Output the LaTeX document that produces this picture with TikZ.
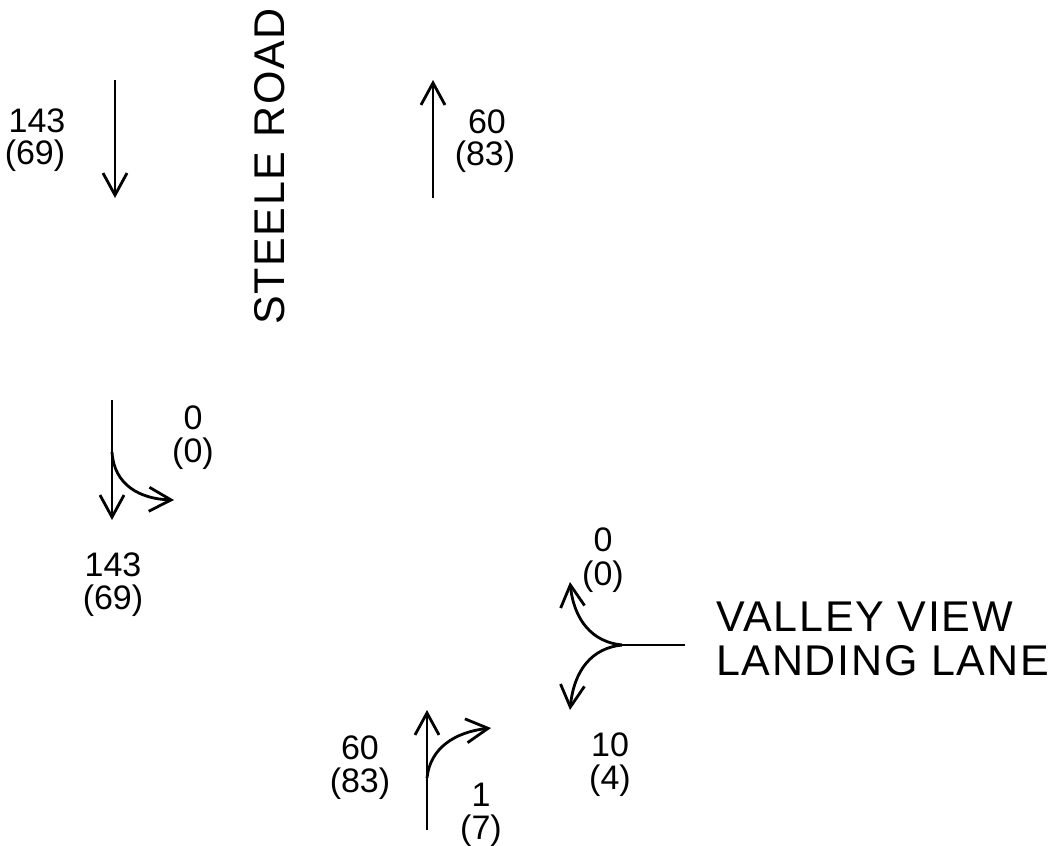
\documentclass[tikz,border=0pt]{standalone}
\usepackage{fontspec}
\setmainfont{Liberation Sans}
\newfontfamily\roadfont[LetterSpace=4]{Liberation Sans}
\usetikzlibrary{arrows.meta}
\begin{document}
\begin{tikzpicture}[x=1pt,y=-1pt,
  flow/.style={line width=2.8pt,-{Straight Barb[length=22pt,width=24pt,line width=2.8pt]}},
  trunk/.style={line width=2.8pt},
  num/.style={font=\fontsize{34}{34}\selectfont,inner sep=0pt,anchor=center},
  road/.style={font=\roadfont\fontsize{43}{43}\selectfont,inner sep=0pt,anchor=west}]
\useasboundingbox (0,0) rectangle (1061,846);
% Steele Road north leg
\coordinate (sbS) at (115,80); \coordinate (sbE) at (115,198);
\draw[flow] (sbS) -- (sbE);
\node[num] (l1a) at (37,121) {143};
\node[num] (l1b) at (35,156) {(69)};
\coordinate (nbS) at (433,198); \coordinate (nbE) at (433,80);
\draw[flow] (nbS) -- (nbE);
\node[num] (l2a) at (487,122) {60};
\node[num] (l2b) at (485,157) {(83)};
\node[road,rotate=90] (steele) at (270,325) {STEELE ROAD};
% southbound approach at intersection
\coordinate (s3S) at (112,400); \coordinate (s3E) at (112,520); \coordinate (s3J) at (112,452);
\coordinate (s3R) at (174,500);
\draw[flow] (s3S) -- (s3E);
\draw[flow] (s3J) .. controls (114,485) and (140,499) .. (s3R);
\node[num] (l3a) at (193,418) {0};
\node[num] (l3b) at (193,454) {(0)};
\node[num] (l4a) at (113,565) {143};
\node[num] (l4b) at (113,601) {(69)};
% Valley View approach
\coordinate (vvS) at (685,645); \coordinate (vvJ) at (622,645);
\coordinate (vvU) at (570,582); \coordinate (vvD) at (570,710);
\draw[trunk] (vvS) -- (vvJ);
\draw[flow] (vvJ) .. controls (592,642) and (574,620) .. (vvU);
\draw[flow] (vvJ) .. controls (592,648) and (574,670) .. (vvD);
\node[num] (l5a) at (603,540) {0};
\node[num] (l5b) at (603,577) {(0)};
\node[num] (l6a) at (610,745) {10};
\node[num] (l6b) at (610,781) {(4)};
\node[road] (vv1) at (716,617) {VALLEY VIEW};
\node[road] (vv2) at (716,661) {LANDING LANE};
% northbound approach
\coordinate (nS) at (427,830); \coordinate (nE) at (427,710); \coordinate (nJ) at (427,778);
\coordinate (nR) at (491,728);
\draw[flow] (nS) -- (nE);
\draw[flow] (nJ) .. controls (430,748) and (455,732) .. (nR);
\node[num] (l7a) at (360,748) {60};
\node[num] (l7b) at (360,784) {(83)};
\node[num] (l8a) at (481,795) {1};
\node[num] (l8b) at (481,831) {(7)};
\end{tikzpicture}
\end{document}
